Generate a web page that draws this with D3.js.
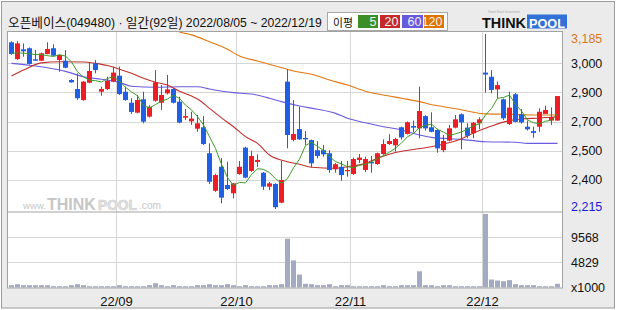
<!DOCTYPE html>
<html><head><meta charset="utf-8">
<script src="https://cdn.jsdelivr.net/npm/d3@7"></script>
<style>
body{margin:0;background:#fff;}
svg{display:block;}
text{font-family:"Liberation Sans",Arial,sans-serif;}
</style>
</head><body><svg id="c" width="620" height="310"></svg>
<script>
const titleParts = [["오픈베이스",1],["(049480) · ",0],["일간",1],["(92",0],["일",1],[") 2022/08/05 ~ 2022/12/19",0]];
const dates = [
"2022-08-05","2022-08-08","2022-08-09","2022-08-10","2022-08-11","2022-08-12","2022-08-16","2022-08-17","2022-08-18","2022-08-19",
"2022-08-22","2022-08-23","2022-08-24","2022-08-25","2022-08-26","2022-08-29","2022-08-30","2022-08-31",
"2022-09-01","2022-09-02","2022-09-05","2022-09-06","2022-09-07","2022-09-08","2022-09-13","2022-09-14","2022-09-15","2022-09-16",
"2022-09-19","2022-09-20","2022-09-21","2022-09-22","2022-09-23","2022-09-26","2022-09-27","2022-09-28","2022-09-29","2022-09-30",
"2022-10-04","2022-10-05","2022-10-06","2022-10-07","2022-10-11","2022-10-12","2022-10-13","2022-10-14","2022-10-17","2022-10-18",
"2022-10-19","2022-10-20","2022-10-21","2022-10-24","2022-10-25","2022-10-26","2022-10-27","2022-10-28","2022-10-31",
"2022-11-01","2022-11-02","2022-11-03","2022-11-04","2022-11-07","2022-11-08","2022-11-09","2022-11-10","2022-11-11",
"2022-11-14","2022-11-15","2022-11-16","2022-11-17","2022-11-18","2022-11-21","2022-11-22","2022-11-23","2022-11-24","2022-11-25",
"2022-11-28","2022-11-29","2022-11-30",
"2022-12-01","2022-12-02","2022-12-05","2022-12-06","2022-12-07","2022-12-08","2022-12-09","2022-12-12","2022-12-13","2022-12-14",
"2022-12-15","2022-12-16","2022-12-19"];
const opens  = [3139,3046,3100,3106,3045,3037,3074,3106,3041,3037, 2930,2880,2819,2915,3023,2865,2880,2921,2954,2865,
                2804,2749,2823,2727,2815,2804,2856,2880,2810,2721, 2701,2660,2668,2524,2316,2449,2348,2302,2409,2555,
                2426,2476,2416,2339,2354,2250,2921,2598,2658,2609, 2597,2541,2541,2524,2435,2449,2426,2409,2487,2431,
                2476,2464,2520,2575,2568,2668,2631,2675,2662,2730, 2668,2653,2541,2594,2666,2740,2666,2635,2690,2971,
                2948,2878,2823,2686,2851,2740,2671,2647,2671,2742, 2705,2705];
const highs  = [3145,3146,3133,3110,3096,3082,3139,3128,3072,3096, 2935,2967,2925,3028,3041,2893,2948,3004,3004,2893,
                2829,2847,2865,2790,2985,2902,2958,2885,2837,2769, 2754,2736,2730,2579,2410,2498,2477,2360,2481,2560,
                2538,2518,2420,2365,2358,2481,2989,2819,2782,2647, 2600,2592,2570,2541,2470,2481,2481,2500,2520,2505,
                2509,2528,2601,2629,2610,2672,2700,2705,2893,2735, 2751,2660,2625,2681,2736,2745,2690,2697,2723,3185,
                2985,2921,2828,2865,2858,2769,2705,2671,2773,2788, 2778,2841];
const lows   = [3070,3040,3059,3015,3037,3035,3072,3062,2976,2995, 2915,2820,2815,2912,2967,2843,2874,2918,2847,2815,
                2742,2745,2690,2722,2810,2764,2850,2800,2690,2708, 2681,2643,2570,2354,2310,2247,2320,2274,2405,2385,
                2420,2449,2320,2320,2215,2247,2551,2590,2598,2570, 2446,2496,2505,2416,2416,2372,2394,2405,2470,2420,
                2416,2460,2515,2570,2533,2600,2628,2640,2607,2650, 2640,2527,2530,2590,2662,2546,2607,2607,2657,2860,
                2856,2829,2708,2680,2695,2688,2650,2610,2643,2745, 2681,2705];
const closes = [3074,3133,3089,3019,3037,3078,3102,3065,3069,2998, 2917,2829,2921,2980,2985,2880,2926,2971,2852,2819,
                2753,2819,2699,2782,2917,2847,2878,2804,2694,2730, 2716,2690,2575,2366,2403,2278,2326,2357,2449,2389,
                2509,2487,2339,2357,2225,2376,2625,2631,2601,2601, 2468,2509,2518,2431,2463,2403,2431,2492,2500,2492,
                2468,2524,2575,2592,2603,2612,2696,2666,2758,2662, 2643,2551,2592,2662,2712,2695,2621,2693,2712,2960,
                2875,2902,2718,2777,2698,2695,2657,2637,2754,2764, 2725,2841];
const volumes = [440,630,440,440,440,440,440,250,250,250, 440,630,440,250,250,250,250,250,440,250,
                 250,250,250,440,820,440,250,440,250,250, 250,440,440,630,440,440,630,440,250,440,
                 250,250,250,440,440,630,9300,5170,2460,700, 630,440,440,630,250,440,440,250,250,250,
                 250,250,440,250,250,440,440,440,3090,440, 440,250,440,440,250,250,250,250,250,14030,
                 1520,1330,1200,1400,630,440,440,440,250,250, 250,700];
const ma5Lead = [3078,3080,3079,3076];
const ma20Pts = [[0,2952],[2,2985],[5,3025],[8,3031],[12,3030],[14,3022],[16,3010],[18,2990],[20,2967],[22,2940],
                 [24,2918],[26,2902],[28,2868],[30,2841],[31,2825],[33,2773],[35,2720],[37,2671],[39,2616],[41,2579],
                 [43,2514],[46,2477],[48,2463],[50,2446],[54,2441],[56,2449],[59,2468],[61,2496],[64,2528],[67,2545],
                 [70,2560],[72,2575],[75,2605],[77,2636],[80,2675],[83,2705],[85,2714],[88,2719],[91,2726]];
const ma60Pts = [[0,3022],[3,3012],[6,2998],[9,2978],[12,2948],[15,2934],[18,2917],[20,2895],[24,2890],[28,2893],
                 [31,2893],[33,2880],[37,2860],[40,2852],[43,2829],[45,2810],[48,2786],[51,2768],[54,2745],[56,2718],
                 [59,2693],[62,2671],[65,2653],[68,2625],[70,2612],[75,2601],[79,2588],[84,2585],[86,2579],[91,2579]];
const ma120Pts = [[28,3195],[30,3180],[33,3142],[36,3100],[38,3063],[41,3035],[44,3008],[47,2980],[50,2962],[53,2930],
                  [56,2902],[59,2868],[62,2847],[65,2829],[68,2810],[70,2793],[72,2782],[75,2765],[79,2742],[83,2740],
                  [87,2736],[91,2736]];
const priceGridValues = [3023,2862,2700,2538,2377];
const priceTickLabels = ["3,000","2,900","2,700","2,500","2,400"];
const priceMaxLabel = "3,185", priceMinLabel = "2,215";
const volGridValues = [9568,4829];
const volTickLabels = ["9568","4829"];
const volUnitLabel = "x1000";
const monthStarts = ["2022-09-01","2022-10-04","2022-11-01","2022-12-01"];
const monthLabels = ["22/09","22/10","22/11","22/12"];
const legendTitle = "이평";
const legendLabels = ["5","20","60","120"];

const C = {up:"#ee1c24", down:"#1f5fe3", ma5:"#3f9a2a", ma20:"#c1302c", ma60:"#6a5be0", ma120:"#e07812",
           vol:"#a3abc3", grid:"#d6d6d6", frame:"#a3a3a3"};
const svg = d3.select("#c");
const L = 7.5, R = 562.5, PT = 31.5, PB = 212, VB = 288;

function fitWidth(t, w){
  const n = t.node(), cur = n.getComputedTextLength();
  const fs = parseFloat(t.attr("font-size"));
  t.attr("font-size", (fs*w/cur).toFixed(2));
}

const x = d3.scaleLinear().domain([0, dates.length-1]).range([11.5, 557.5]);
const y = d3.scaleLinear().domain([2215, 3185]).range([209, 34]);
const yv = d3.scaleLinear().domain([0, 14400]).range([287.5, 212]);

// background frame
svg.append("rect").attr("x",0).attr("y",0).attr("width",620).attr("height",310).attr("fill","#fff");
svg.append("rect").attr("x",1.5).attr("y",1.5).attr("width",613).attr("height",306.5).attr("fill","#ebebeb").attr("stroke","#9c9c9c");
svg.append("rect").attr("x",L).attr("y",PT).attr("width",R-L).attr("height",VB-PT).attr("fill","#fff");

// grid
const g = svg.append("g");
priceGridValues.forEach(v=>{
  const yy = Math.round(y(v))+0.5;
  g.append("line").attr("x1",L).attr("x2",R).attr("y1",yy).attr("y2",yy).attr("stroke",C.grid);
});
volGridValues.forEach(v=>{
  const yy = Math.round(yv(v))+0.5;
  g.append("line").attr("x1",L).attr("x2",R).attr("y1",yy).attr("y2",yy).attr("stroke",C.grid);
});
const monthIdx = monthStarts.map(d=>dates.indexOf(d));
monthIdx.forEach(i=>{
  const xx = x(i-0.5);
  g.append("line").attr("x1",xx).attr("x2",xx).attr("y1",PT).attr("y2",VB).attr("stroke",C.grid);
});

// watermark
const wm = svg.append("g").attr("fill","#c6c6c6");
fitWidth(wm.append("text").attr("x",23).attr("y",208.5).attr("font-size",11).text("www."), 23);
fitWidth(wm.append("text").attr("x",47).attr("y",210).attr("font-size",17).attr("font-weight","bold").text("THINK"), 49);
fitWidth(wm.append("text").attr("x",98).attr("y",210).attr("font-size",17).attr("font-weight","bold").attr("fill","#e2e2e2")
  .attr("stroke","#cfcfcf").attr("stroke-width",0.6).text("POOL"), 39);
fitWidth(wm.append("text").attr("x",139).attr("y",208.5).attr("font-size",11).text(".com"), 22);

// clip
svg.append("clipPath").attr("id","pc").append("rect").attr("x",L).attr("y",PT+0.5).attr("width",R-L).attr("height",PB-PT-0.5);
const pg = svg.append("g").attr("clip-path","url(#pc)");

// moving averages
const line = d3.line().x(d=>x(d[0])).y(d=>y(d[1]));
const lineS = d3.line().x(d=>x(d[0])).y(d=>y(d[1])).curve(d3.curveMonotoneX);
pg.append("path").attr("d",lineS(ma120Pts)).attr("fill","none").attr("stroke",C.ma120).attr("stroke-width",1.1);
pg.append("path").attr("d",lineS(ma60Pts)).attr("fill","none").attr("stroke",C.ma60).attr("stroke-width",1.1);
pg.append("path").attr("d",lineS(ma20Pts)).attr("fill","none").attr("stroke",C.ma20).attr("stroke-width",1.1);

// candles
const cg = pg.append("g");
dates.forEach((d,i)=>{
  const o=opens[i], c=closes[i], h=highs[i], l=lows[i];
  const col = c>=o ? C.up : C.down;
  const cx = x(i);
  cg.append("line").attr("x1",cx).attr("x2",cx).attr("y1",y(h)).attr("y2",y(l)).attr("stroke",col).attr("stroke-width",1);
  const top = y(Math.max(o,c)), bot = y(Math.min(o,c));
  cg.append("rect").attr("x",cx-2.5).attr("width",5).attr("y",top).attr("height",Math.max(1.2,bot-top)).attr("fill",col);
});

// 5-day MA from closes
const ma5 = closes.map((c,i)=> i<4 ? [i,ma5Lead[i]] : [i, d3.mean(closes.slice(i-4,i+1))]);
pg.append("path").attr("d",line(ma5)).attr("fill","none").attr("stroke",C.ma5).attr("stroke-width",1);

// volume
svg.append("g").selectAll("rect").data(volumes).join("rect")
  .attr("x",(v,i)=>x(i)-2.5).attr("width",5)
  .attr("y",v=>yv(v)).attr("height",v=>yv(0)-yv(v)).attr("fill",C.vol);

// panel borders
const fr = svg.append("g").attr("stroke",C.frame).attr("fill","none");
fr.append("rect").attr("x",L).attr("y",PT).attr("width",R-L).attr("height",VB-PT);
fr.append("line").attr("x1",L).attr("x2",R).attr("y1",PB).attr("y2",PB);

// right axis labels
const ax = svg.append("g").attr("font-size",12.5).attr("fill","#111");
priceGridValues.forEach((v,k)=>{
  ax.append("text").attr("x",571).attr("y",y(v)+4.5).text(priceTickLabels[k]);
});
ax.append("text").attr("x",571).attr("y",y(3185)+9).attr("fill","#d9781e").text(priceMaxLabel);
ax.append("text").attr("x",571).attr("y",y(2215)+2).attr("fill","#1a1ad8").text(priceMinLabel);
volGridValues.forEach((v,k)=>{
  ax.append("text").attr("x",571).attr("y",yv(v)+5).text(volTickLabels[k]);
});
ax.append("text").attr("x",571).attr("y",yv(0)+4).text(volUnitLabel);

// month labels
monthIdx.forEach((i,k)=>{
  svg.append("text").attr("x",x(i-0.5)).attr("y",305.5).attr("text-anchor","middle")
    .attr("font-size",13).attr("fill","#111").text(monthLabels[k]);
});

// title (Korean in CJK font, latin in Liberation Sans), fitted to the reference width
const tt = svg.append("text").attr("x",8).attr("y",26.5).attr("fill","#111").attr("font-size",13);
titleParts.forEach(([s,k])=>{
  tt.append("tspan").attr("font-size", k?13.5:13)
    .style("font-family", k?"'Noto Sans CJK KR',sans-serif":"'Liberation Sans',sans-serif").text(s);
});
{
  const cur = tt.node().getComputedTextLength(), f = 314/cur;
  tt.selectAll("tspan").each(function(){ const s=d3.select(this); s.attr("font-size",(parseFloat(s.attr("font-size"))*f).toFixed(2)); });
}

// legend
const lg = svg.append("g");
lg.append("rect").attr("x",327.5).attr("y",12.5).attr("width",120).attr("height",18).attr("fill","#fff").attr("stroke","#a8a8a8");
fitWidth(lg.append("text").attr("x",333).attr("y",26.5).attr("font-size",12).attr("fill","#111")
  .style("font-family","'Noto Sans CJK KR',sans-serif").text(legendTitle), 20);
const lgCols = ["#3c8f26","#c42a2a","#6659dc","#e07400"];
const lgX = [358, 380, 402, 424], lgW = [20,20,21,20];
legendLabels.forEach((t,k)=>{
  lg.append("rect").attr("x",lgX[k]).attr("y",15).attr("width",lgW[k]).attr("height",13).attr("fill",lgCols[k]);
  lg.append("text").attr("x",lgX[k]+lgW[k]-1.5).attr("y",26).attr("text-anchor","end").attr("font-size",12.5)
    .attr("fill","#f4f4f4").text(t);
});

// logo
const lo = svg.append("g");
fitWidth(lo.append("text").attr("x",482).attr("y",28).attr("font-size",15).attr("font-weight","bold").attr("fill","#111").text("THINK"), 44);
lo.append("rect").attr("x",527).attr("y",14.5).attr("width",40).attr("height",14).attr("fill","#3170d6");
fitWidth(lo.append("text").attr("x",529).attr("y",27.5).attr("font-size",15).attr("font-weight","bold").attr("fill","#fff").text("POOL"), 36);
fitWidth(lo.append("text").attr("x",488).attr("y",12.5).attr("font-size",3.5).attr("fill","#aaa").text("Smart Stock Investment"), 32);
</script>
</body></html>
